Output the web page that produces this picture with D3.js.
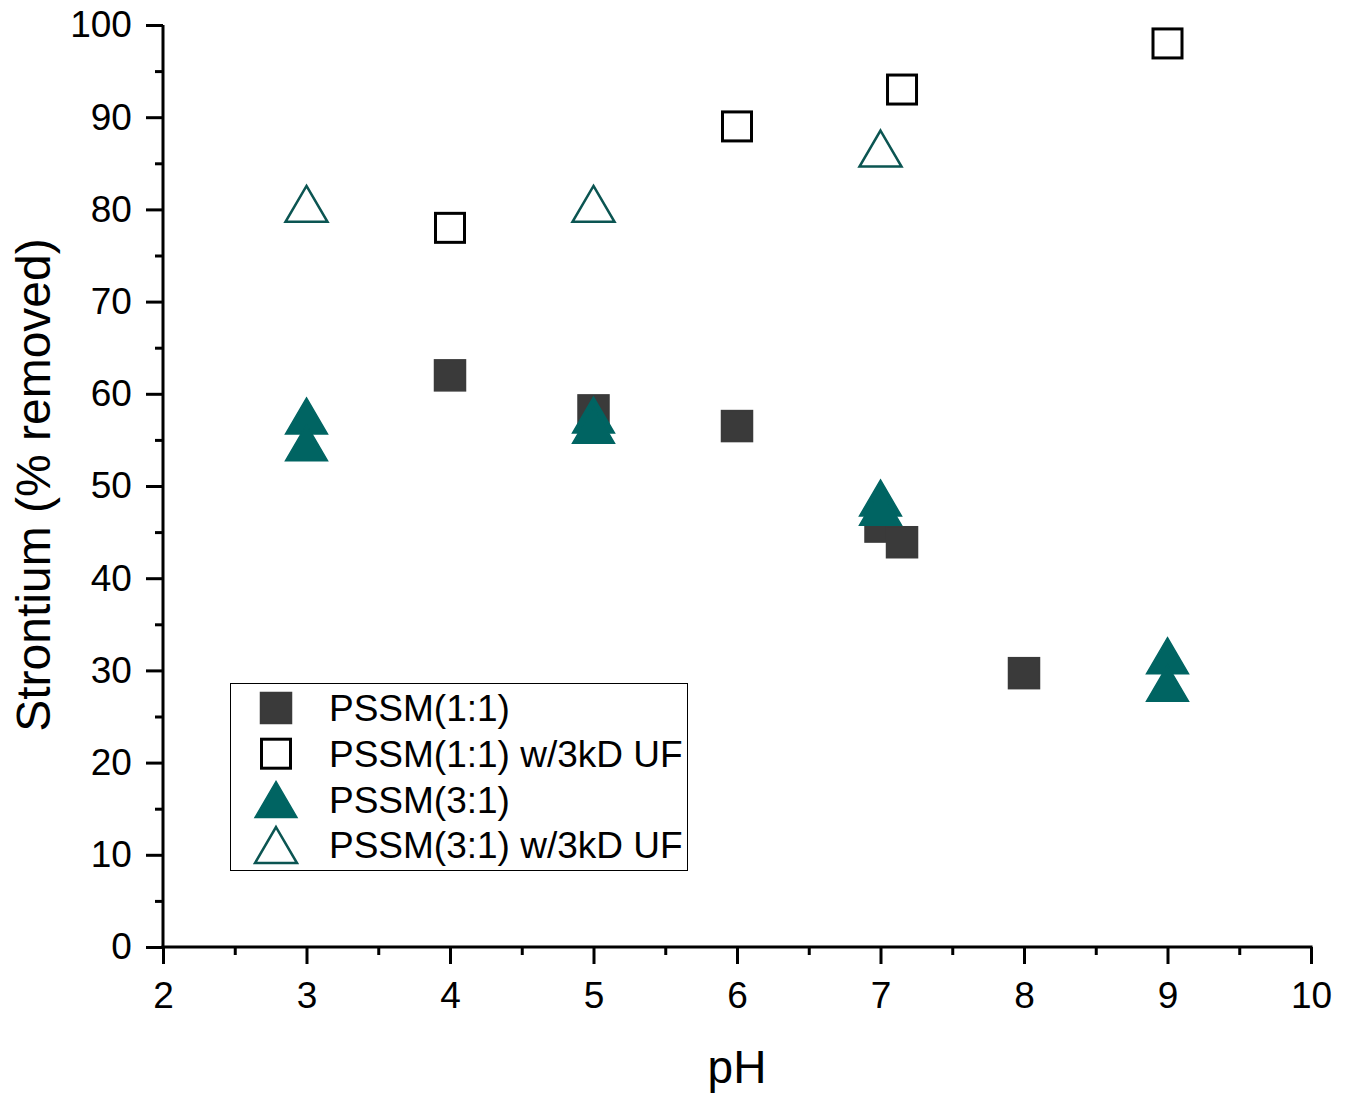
<!DOCTYPE html>
<html>
<head>
<meta charset="utf-8">
<script src="https://cdn.jsdelivr.net/npm/d3@7"></script>
<style>
  body { margin: 0; background: #fff; }
  text { font-family: Arial, "Liberation Sans", sans-serif; fill: #000; }
</style>
</head>
<body>
<svg width="1345" height="1095"></svg>
<script>
// data
const pssm11_x = [4, 5, 6, 7, 7.15, 8];
const pssm11_y = [62, 58.2, 56.5, 45.6, 43.9, 29.7];

const pssm11uf_x = [4, 6, 7.15, 9];
const pssm11uf_y = [78, 89, 93, 98];

const pssm31_x = [3, 3, 5, 5, 7, 7, 9, 9];
const pssm31_y = [57.6, 54.7, 57.7, 56.6, 48.7, 47.7, 31.6, 28.6];

const pssm31uf_x = [3, 5, 7];
const pssm31uf_y = [80.6, 80.6, 86.6];

const xTicks = [2, 3, 4, 5, 6, 7, 8, 9, 10];
const yTicks = [0, 10, 20, 30, 40, 50, 60, 70, 80, 90, 100];

const svg = d3.select("svg");

const x = d3.scaleLinear().domain([2, 10]).range([163, 1311]);
const y = d3.scaleLinear().domain([0, 100]).range([947, 25]);

const teal = "#006462", dark = "#3a3a3a", tealLine = "#0b5552";

// axes: minor ticks, then major ticks with labels
const xAxis = svg.append("g").attr("transform", "translate(0," + y(0) + ")");
xAxis.append("g").call(d3.axisBottom(x).tickValues(d3.range(2.5, 10, 1)).tickSize(8).tickFormat(""));
xAxis.append("g").call(d3.axisBottom(x).tickValues(xTicks).tickSize(17).tickFormat(d3.format("d")));
const yAxis = svg.append("g").attr("transform", "translate(" + x(2) + ",0)");
yAxis.append("g").call(d3.axisLeft(y).tickValues(d3.range(5, 100, 10)).tickSize(8).tickFormat(""));
yAxis.append("g").call(d3.axisLeft(y).tickValues(yTicks).tickSize(17).tickFormat(d3.format("d")));

svg.selectAll(".domain").remove();
svg.selectAll(".tick line").attr("stroke", "#000").attr("stroke-width", 3);
svg.selectAll(".tick text").attr("font-size", 37).attr("fill", "#000")
    .style("font-family", "Arial, 'Liberation Sans', sans-serif");
xAxis.selectAll(".tick text").attr("dy", "1.1em");
yAxis.selectAll(".tick text").attr("dx", "-0.3em");

// axis lines
xAxis.append("line").attr("x1", x(2) - 1.5).attr("x2", x(10) + 1.5)
    .attr("stroke", "#000").attr("stroke-width", 3);
yAxis.append("line").attr("y1", y(0)).attr("y2", y(100))
    .attr("stroke", "#000").attr("stroke-width", 3);

// axis titles
svg.append("text")
    .attr("x", x(6)).attr("y", 1083)
    .attr("text-anchor", "middle")
    .attr("font-size", 46)
    .text("pH");
svg.append("text")
    .attr("transform", "translate(50," + 485 + ") rotate(-90)")
    .attr("text-anchor", "middle")
    .attr("font-size", 48)
    .text("Strontium (% removed)");

// markers
const sq = 31, triW = 42, triH = 36;
function triPath(cx, cy) {
    return "M" + cx + "," + (cy - triH / 2) +
        "L" + (cx + triW / 2) + "," + (cy + triH / 2) +
        "L" + (cx - triW / 2) + "," + (cy + triH / 2) + "Z";
}

function zip(xs, ys) { return xs.map((v, i) => [v, ys[i]]); }

svg.append("g").selectAll("rect")
    .data(zip(pssm11_x, pssm11_y))
    .enter().append("rect")
    .attr("x", d => x(d[0]) - sq / 2)
    .attr("y", d => y(d[1]) - sq / 2)
    .attr("width", sq).attr("height", sq)
    .attr("fill", dark).attr("stroke", dark).attr("stroke-width", 1.5);

svg.append("g").selectAll("rect")
    .data(zip(pssm11uf_x, pssm11uf_y))
    .enter().append("rect")
    .attr("x", d => x(d[0]) - sq / 2 + 1)
    .attr("y", d => y(d[1]) - sq / 2 + 1)
    .attr("width", sq - 2).attr("height", sq - 2)
    .attr("fill", "none").attr("stroke", "#000").attr("stroke-width", 3);

svg.append("g").selectAll("path")
    .data(zip(pssm31_x, pssm31_y))
    .enter().append("path")
    .attr("d", d => triPath(x(d[0]), y(d[1])))
    .attr("fill", teal).attr("stroke", teal).attr("stroke-width", 1.5);

svg.append("g").selectAll("path")
    .data(zip(pssm31uf_x, pssm31uf_y))
    .enter().append("path")
    .attr("d", d => triPath(x(d[0]), y(d[1])))
    .attr("fill", "none").attr("stroke", tealLine).attr("stroke-width", 2.5);

// legend
const legendItems = ["PSSM(1:1)", "PSSM(1:1) w/3kD UF", "PSSM(3:1)", "PSSM(3:1) w/3kD UF"];
const legend = svg.append("g");
legend.append("rect")
    .attr("x", 230.5).attr("y", 683.5).attr("width", 457).attr("height", 187)
    .attr("fill", "#fff").attr("stroke", "#000").attr("stroke-width", 1);

const rowY = i => 708 + i * 45.7;
legend.append("rect").attr("x", 276 - sq / 2).attr("y", rowY(0) - sq / 2)
    .attr("width", sq).attr("height", sq).attr("fill", dark).attr("stroke", dark).attr("stroke-width", 1.5);
legend.append("rect").attr("x", 276 - sq / 2 + 1).attr("y", rowY(1) - sq / 2 + 1)
    .attr("width", sq - 2).attr("height", sq - 2).attr("fill", "none").attr("stroke", "#000").attr("stroke-width", 3);
legend.append("path").attr("d", triPath(276, rowY(2)))
    .attr("fill", teal).attr("stroke", teal).attr("stroke-width", 1.5);
legend.append("path").attr("d", triPath(276, rowY(3)))
    .attr("fill", "none").attr("stroke", tealLine).attr("stroke-width", 2.5);

legend.selectAll("text.lab")
    .data(legendItems)
    .enter().append("text")
    .attr("class", "lab")
    .attr("x", 329)
    .attr("y", (d, i) => rowY(i))
    .attr("dy", "0.36em")
    .attr("font-size", 37)
    .text(d => d);
</script>
</body>
</html>
